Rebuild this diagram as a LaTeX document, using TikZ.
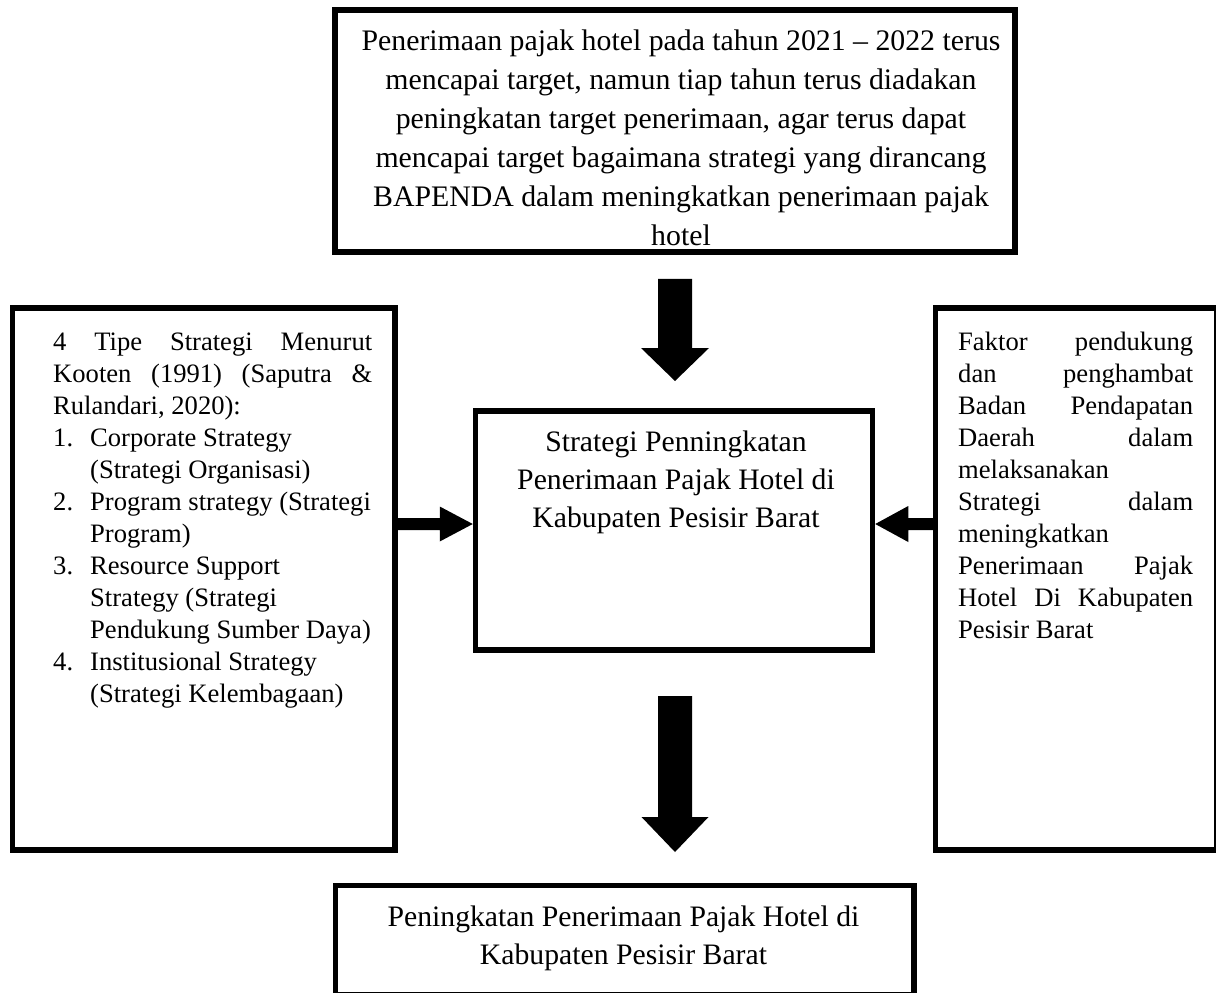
\documentclass[tikz,border=0pt]{standalone}
\usepackage{fontspec}
\setmainfont{Liberation Serif}
\usetikzlibrary{calc}
\newcommand{\BlockArr}[5]{%
  \path (#1) coordinate (ba-s) (#2) coordinate (ba-e);
  \path ($(ba-e)!#5!(ba-s)$) coordinate (ba-h);
  \fill ($(ba-s)!#3!90:(ba-e)$) -- ($(ba-h)!#3!90:(ba-e)$) -- ($(ba-h)!#4!90:(ba-e)$) -- (ba-e)
     -- ($(ba-h)!#4!-90:(ba-e)$) -- ($(ba-h)!#3!-90:(ba-e)$) -- ($(ba-s)!#3!-90:(ba-e)$) -- cycle;}
\begin{document}
\begin{tikzpicture}[x=1pt,y=1pt,
  frame/.style={draw, line width=5.5pt, rectangle, inner sep=0pt},
  bigtext/.style={inner sep=0pt, anchor=north, align=center, font=\fontsize{29.7}{38.2}\selectfont},
  sidetext/.style={inner sep=0pt, anchor=north west, align=left, font=\fontsize{26.6}{32}\selectfont}]
\useasboundingbox (0,0) rectangle (1216,-993);
% texts
\node[bigtext, font=\fontsize{29.8}{39}\selectfont] (toptext) at (681,-22.7) {\strut Penerimaan pajak hotel pada tahun 2021 – 2022 terus\\
mencapai target, namun tiap tahun terus diadakan\\
peningkatan target penerimaan, agar terus dapat\\
mencapai target bagaimana strategi yang dirancang\\
BAPENDA dalam meningkatkan penerimaan pajak\\
hotel};
\node[bigtext] (midtext) at (676,-424.26) {\strut Strategi Penningkatan\\ Penerimaan Pajak Hotel di\\ Kabupaten Pesisir Barat};
\node[bigtext] (bottext) at (623.5,-899.26) {\strut Peningkatan Penerimaan Pajak Hotel di\\ Kabupaten Pesisir Barat};
\node[sidetext] (lefttext) at (53,-327.6) {\strut\hbox to 319pt{4 \hfill Tipe \hfill Strategi \hfill Menurut}\\
\hbox to 319pt{Kooten \hfill (1991) \hfill (Saputra \hfill \&}\\
Rulandari, 2020):\\
\makebox[37pt][l]{1.}Corporate Strategy\\
\hspace*{37pt}(Strategi Organisasi)\\
\makebox[37pt][l]{2.}Program strategy (Strategi\\
\hspace*{37pt}Program)\\
\makebox[37pt][l]{3.}Resource Support\\
\hspace*{37pt}Strategy (Strategi\\
\hspace*{37pt}Pendukung Sumber Daya)\\
\makebox[37pt][l]{4.}Institusional Strategy\\
\hspace*{37pt}(Strategi Kelembagaan)};
\node[sidetext] (righttext) at (958,-327.6) {\strut\hbox to 235pt{Faktor \hfill pendukung}\\
\hbox to 235pt{dan \hfill penghambat}\\
\hbox to 235pt{Badan \hfill Pendapatan}\\
\hbox to 235pt{Daerah \hfill dalam}\\
melaksanakan\\
\hbox to 235pt{Strategi \hfill dalam}\\
meningkatkan\\
\hbox to 235pt{Penerimaan \hfill Pajak}\\
\hbox to 235pt{Hotel \hfill Di \hfill Kabupaten}\\
Pesisir Barat};
% boxes
\node[frame, minimum width=680pt, minimum height=242pt] (topbox) at (675,-131) {};
\node[frame, minimum width=382.5pt, minimum height=542pt] (leftbox) at (203.75,-579) {};
\node[frame, minimum width=281.5pt, minimum height=542pt] (rightbox) at (1076.25,-579) {};
\node[frame, minimum width=397pt, minimum height=239pt] (midbox) at (674,-530.5) {};
\node[frame, minimum width=578.5pt, minimum height=109.5pt] (botbox) at (624.75,-940.25) {};
% arrows
\coordinate (row) at (0,-524);
\coordinate (dnA) at ($(midbox.south)+(1,-43.25)$);
\coordinate (dnB) at ($(dnA |- botbox.north)+(0,30.75)$);
\BlockArr{$(topbox.south)+(0,-24)$}{$(midbox.north)+(1,27.25)$}{17pt}{34pt}{33pt}
\BlockArr{dnA}{dnB}{17pt}{33.5pt}{35pt}
\BlockArr{leftbox.east |- row}{midbox.west |- row}{6pt}{17.5pt}{33pt}
\BlockArr{rightbox.west |- row}{midbox.east |- row}{6pt}{18pt}{33pt}
\end{tikzpicture}
\end{document}
